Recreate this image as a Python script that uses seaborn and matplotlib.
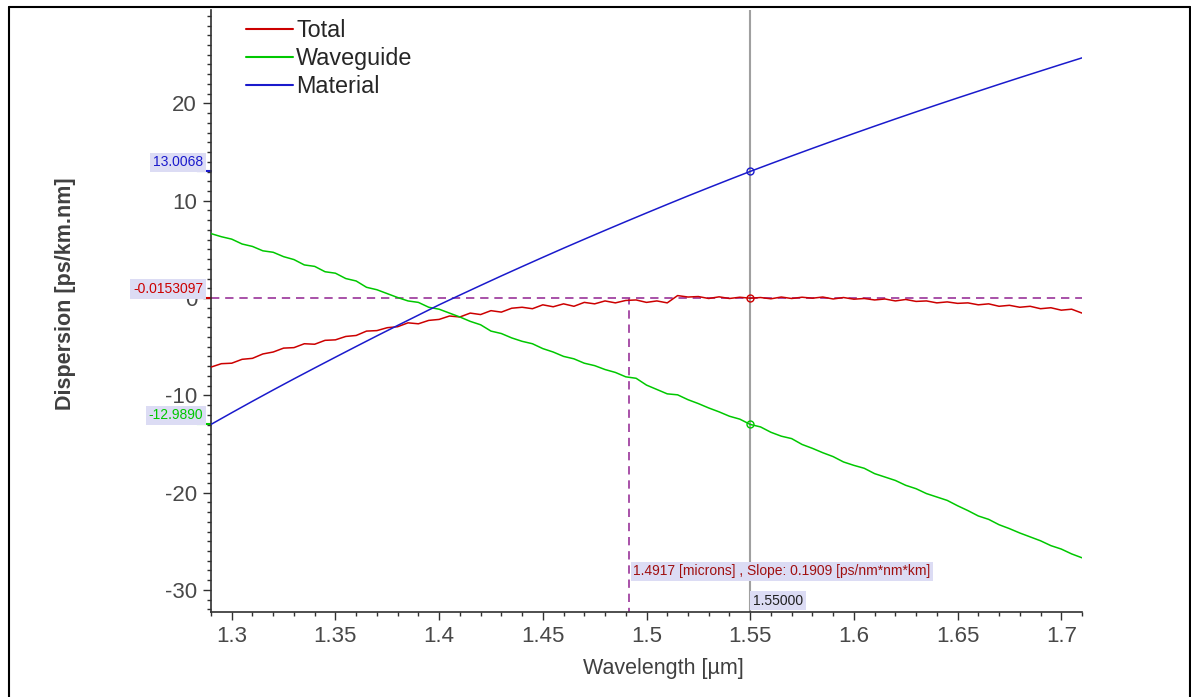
import numpy as np
import pandas as pd
import matplotlib
matplotlib.use('Agg')
import matplotlib.pyplot as plt
import matplotlib.transforms as mtransforms
from matplotlib.lines import Line2D
from matplotlib.ticker import MultipleLocator, FuncFormatter
import seaborn as sns

# wavelength grid (microns), 0.005 step for noisy curves, 0.01 for material
wl = np.linspace(1.29, 1.71, 85)
wl_mat = np.linspace(1.29, 1.71, 43)

total = [-7.10, -6.75, -6.70, -6.30, -6.20, -5.75, -5.55, -5.15, -5.10, -4.70,
         -4.75, -4.35, -4.30, -3.95, -3.85, -3.40, -3.35, -3.05, -2.95, -2.55,
         -2.65, -2.30, -2.20, -1.85, -1.95, -1.55, -1.70, -1.30, -1.45, -1.05,
         -0.95, -1.10, -0.70, -0.90, -0.60, -0.85, -0.45, -0.60, -0.30, -0.50,
         -0.25, -0.20, -0.45, -0.30, -0.50, 0.25, 0.10, 0.15, -0.05, 0.12,
         -0.05, 0.08, -0.02, 0.05, -0.08, 0.10, -0.05, 0.08, -0.02, 0.10,
         -0.10, 0.05, -0.12, -0.05, -0.20, -0.10, -0.30, -0.15, -0.35, -0.30,
         -0.50, -0.40, -0.55, -0.50, -0.70, -0.60, -0.85, -0.75, -0.95, -0.85,
         -1.10, -1.00, -1.25, -1.15, -1.55]

waveguide = [6.62, 6.30, 6.05, 5.55, 5.30, 4.85, 4.70, 4.25, 3.95, 3.40,
             3.25, 2.70, 2.55, 2.00, 1.75, 1.10, 0.85, 0.45, 0.05, -0.30,
             -0.45, -0.95, -1.15, -1.55, -1.95, -2.40, -2.75, -3.40, -3.65, -4.10,
             -4.45, -4.70, -5.20, -5.55, -6.00, -6.25, -6.70, -6.95, -7.35, -7.65,
             -8.10, -8.25, -8.95, -9.40, -9.85, -9.95, -10.45, -10.85, -11.30, -11.70,
             -12.15, -12.45, -12.99, -13.25, -13.80, -14.20, -14.45, -15.05, -15.45, -15.90,
             -16.30, -16.85, -17.20, -17.50, -18.05, -18.40, -18.75, -19.25, -19.60, -20.10,
             -20.45, -20.80, -21.35, -21.85, -22.40, -22.75, -23.30, -23.70, -24.15, -24.55,
             -24.95, -25.45, -25.80, -26.30, -26.70]

material = [-12.99, -11.79, -10.61, -9.45, -8.31, -7.19, -6.08, -4.98, -3.89, -2.82,
            -1.76, -0.70, 0.30, 1.29, 2.27, 3.23, 4.18, 5.12, 6.04, 6.95,
            7.85, 8.74, 9.62, 10.49, 11.34, 12.18, 13.01, 13.81, 14.60, 15.38,
            16.15, 16.91, 17.66, 18.40, 19.13, 19.85, 20.56, 21.26, 21.96, 22.65,
            23.33, 24.01, 24.68]

# cursor readout
cursor_x = 1.55
cursor_vals = [-0.0153097, -12.9890, 13.0068]   # Total, Waveguide, Material
cursor_labels = ['-0.0153097', '-12.9890', '13.0068']
zero_x = 1.4917
slope_text = '1.4917 [microns] , Slope: 0.1909 [ps/nm*nm*km]'

names = ['Total', 'Waveguide', 'Material']
colors = ['#cc0000', '#00c800', '#1a1acc']

df = pd.concat([
    pd.DataFrame({'wl': wl, 'D': total, 'curve': 'Total'}),
    pd.DataFrame({'wl': wl, 'D': waveguide, 'curve': 'Waveguide'}),
    pd.DataFrame({'wl': wl_mat, 'D': material, 'curve': 'Material'}),
])

sns.set_style('white')
plt.rcParams['font.family'] = ['Liberation Sans', 'DejaVu Sans']
plt.rcParams['axes.unicode_minus'] = False

fig = plt.figure(figsize=(11.91, 6.97), dpi=100)
ax = fig.add_axes([211 / 1191, 1 - 612 / 697, 871 / 1191, 602 / 697])

ax.axvline(cursor_x, color='#a0a0a0', lw=1.5, zorder=1)
ax.axhline(cursor_vals[0], color='#993399', lw=1.2, ls=(0, (5, 3.5)), zorder=1)
ax.plot([zero_x, zero_x], [-40, cursor_vals[0]], color='#993399', lw=1.2,
        ls=(0, (5, 3.5)), zorder=1)

sns.lineplot(data=df, x='wl', y='D', hue='curve', hue_order=names,
             palette=colors, estimator=None, lw=1.1, ax=ax, zorder=3)

for v, c in zip(cursor_vals, colors):
    ax.plot(cursor_x, v, 'o', mfc='none', mec=c, ms=5, mew=1, zorder=4)

ax.set_xlim(1.29, 1.71)
ax.set_ylim(-32.27, 29.6)
ax.xaxis.set_major_locator(MultipleLocator(0.05))
ax.xaxis.set_minor_locator(MultipleLocator(0.01))
ax.yaxis.set_major_locator(MultipleLocator(10))
ax.yaxis.set_minor_locator(MultipleLocator(1))
ax.xaxis.set_major_formatter(FuncFormatter(lambda v, p: f'{v:g}'))
ax.tick_params(which='major', direction='out', length=6, width=1, color='#303030',
               labelsize=16, labelcolor='#484848', left=True, bottom=True, pad=4)
ax.tick_params(which='minor', direction='out', length=3, width=1, color='#303030',
               left=True, bottom=True)
for s in ['top', 'right']:
    ax.spines[s].set_visible(False)
for s in ['left', 'bottom']:
    ax.spines[s].set_color('#303030')
    ax.spines[s].set_linewidth(1.2)

ax.set_xlabel('Wavelength [µm]', fontsize=15.5, color='#404040')
ax.xaxis.set_label_coords(0.519, -0.077)
ax.set_ylabel('Dispersion [ps/km.nm]', fontsize=15.5, fontweight='bold', color='#404040')
ax.yaxis.set_label_coords(-0.155, 0.528)

handles = [Line2D([], [], color=c, lw=1.5) for c in colors]
ax.legend(handles, names, loc='upper left', bbox_to_anchor=(0.04, 0.985),
          frameon=False, fontsize=16.8, handlelength=2.0, handletextpad=0.15,
          labelspacing=0.22, borderpad=0, borderaxespad=0)

# value flags on the left of the y axis
trans = mtransforms.blended_transform_factory(ax.transAxes, ax.transData)
for v, c, lab in zip(cursor_vals, colors, cursor_labels):
    ax.plot([-0.016, 0], [v, v], color=c, lw=1.5, transform=trans, clip_on=False)
    ax.annotate(lab, xy=(0, v), xycoords=trans, xytext=(-8, 9), textcoords='offset pixels',
                ha='right', va='center', fontsize=10, color=c, zorder=10,
                bbox=dict(boxstyle='square,pad=0.2', fc='#dcdcf4', ec='none'))

ax.annotate(slope_text, xy=(zero_x, -28.1), xytext=(4, 0), textcoords='offset pixels',
            ha='left', va='center', fontsize=10, color='#a01010',
            bbox=dict(boxstyle='square,pad=0.2', fc='#dcdcf4', ec='none'))
ax.annotate(f'{cursor_x:.5f}', xy=(cursor_x, -31.1), xytext=(3, 0), textcoords='offset pixels',
            ha='left', va='center', fontsize=10, color='#202020',
            bbox=dict(boxstyle='square,pad=0.2', fc='#dcdcf4', ec='none'))

# outer frame
fig.add_artist(Line2D([8.5 / 1191, 8.5 / 1191], [0, 1 - 7 / 697], color='black', lw=1.5))
fig.add_artist(Line2D([8.5 / 1191, 1189.5 / 1191], [1 - 7 / 697, 1 - 7 / 697], color='black', lw=1.5))
fig.add_artist(Line2D([1189.5 / 1191, 1189.5 / 1191], [0, 1 - 7 / 697], color='black', lw=1.5))

fig.savefig('out.png', dpi=100)
